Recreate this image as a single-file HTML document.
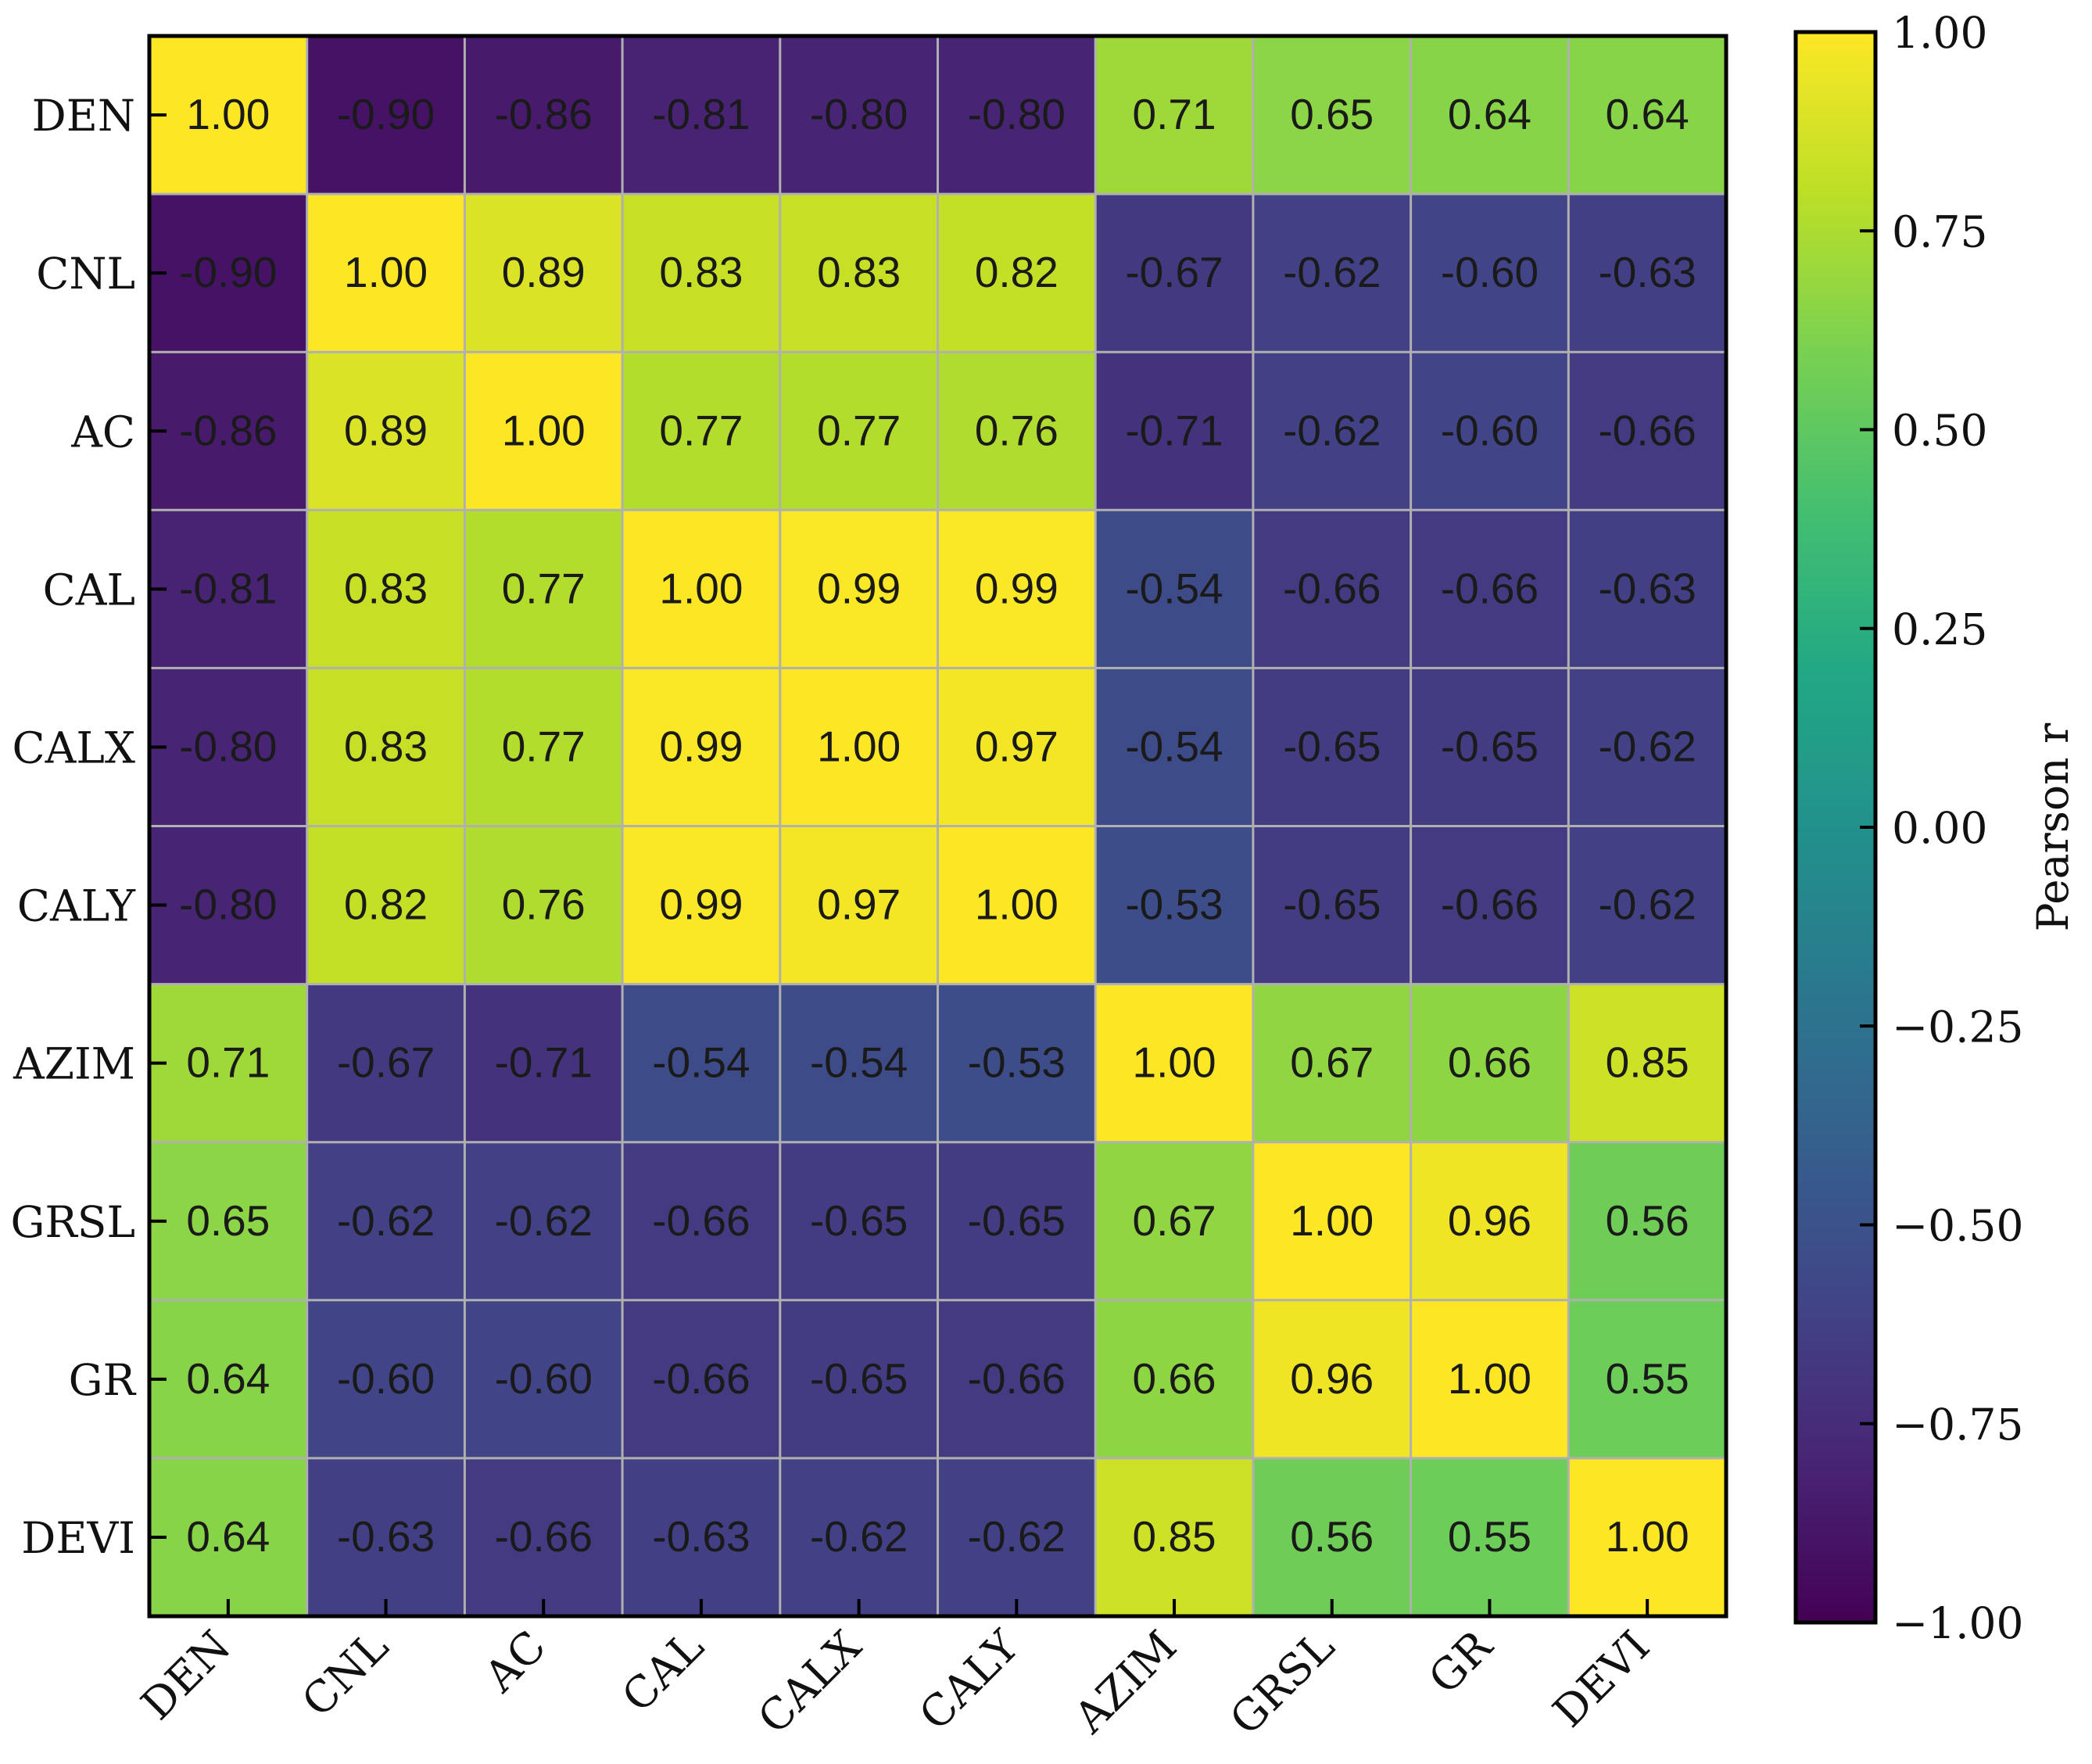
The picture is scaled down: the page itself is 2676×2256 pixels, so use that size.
<!DOCTYPE html>
<html><head><meta charset="utf-8">
<style>
html,body{margin:0;padding:0;background:#fff;}
svg{display:block;}
.tl{font-family:"DejaVu Serif","Liberation Serif",serif;font-size:55px;fill:#111;}
.cv{font-family:"Liberation Sans",sans-serif;font-size:55px;fill:#1a1a1a;}
</style></head>
<body>
<svg id="chart" width="2676" height="2256" viewBox="0 0 2676 2256" xmlns="http://www.w3.org/2000/svg">
<defs>
<linearGradient id="vir" x1="0" y1="1" x2="0" y2="0"></linearGradient>
</defs>
<g id="cells"></g>
<g id="grid"></g>
<g id="vals"></g>
<g id="axes"></g>
<g id="cbar"></g>
</svg>
<script>
const variables = ["DEN","CNL","AC","CAL","CALX","CALY","AZIM","GRSL","GR","DEVI"];
const rowDEN  = [1.00,-0.90,-0.86,-0.81,-0.80,-0.80,0.71,0.65,0.64,0.64];
const rowCNL  = [-0.90,1.00,0.89,0.83,0.83,0.82,-0.67,-0.62,-0.60,-0.63];
const rowAC   = [-0.86,0.89,1.00,0.77,0.77,0.76,-0.71,-0.62,-0.60,-0.66];
const rowCAL  = [-0.81,0.83,0.77,1.00,0.99,0.99,-0.54,-0.66,-0.66,-0.63];
const rowCALX = [-0.80,0.83,0.77,0.99,1.00,0.97,-0.54,-0.65,-0.65,-0.62];
const rowCALY = [-0.80,0.82,0.76,0.99,0.97,1.00,-0.53,-0.65,-0.66,-0.62];
const rowAZIM = [0.71,-0.67,-0.71,-0.54,-0.54,-0.53,1.00,0.67,0.66,0.85];
const rowGRSL = [0.65,-0.62,-0.62,-0.66,-0.65,-0.65,0.67,1.00,0.96,0.56];
const rowGR   = [0.64,-0.60,-0.60,-0.66,-0.65,-0.66,0.66,0.96,1.00,0.55];
const rowDEVI = [0.64,-0.63,-0.66,-0.63,-0.62,-0.62,0.85,0.56,0.55,1.00];
const matrix = [rowDEN,rowCNL,rowAC,rowCAL,rowCALX,rowCALY,rowAZIM,rowGRSL,rowGR,rowDEVI];
const cbarTicks = [1.00,0.75,0.50,0.25,0.00,-0.25,-0.50,-0.75,-1.00];
const cbarTickLabels = ["1.00","0.75","0.50","0.25","0.00","\u22120.25","\u22120.50","\u22120.75","\u22121.00"];
const vmin = -1, vmax = 1;

const NS = "http://www.w3.org/2000/svg";
const X0 = 191, X1 = 2208, Y0 = 46, Y1 = 2067;
const n = variables.length;
const cw = (X1 - X0) / n, ch = (Y1 - Y0) / n;
function xPos(i){ return X0 + i * cw; }
function yPos(i){ return Y0 + i * ch; }
const CB = {x0:2297, x1:2399, y0:41, y1:2075};
function cbY(v){ return CB.y1 - (v - vmin) / (vmax - vmin) * (CB.y1 - CB.y0); }

const vstops = [
[0.0,[68,1,84]],[0.1,[72,36,117]],[0.2,[65,68,135]],[0.3,[53,95,141]],
[0.4,[42,120,142]],[0.5,[33,145,140]],[0.6,[34,168,132]],[0.7,[68,191,112]],
[0.8,[122,209,81]],[0.9,[189,223,38]],[1.0,[253,231,37]]];
function viridis(t){
  t = Math.max(0, Math.min(1, t));
  for (let k = 0; k < vstops.length - 1; k++){
    const a = vstops[k], b = vstops[k+1];
    if (t <= b[0]){
      const f = (t - a[0]) / (b[0] - a[0]);
      const c = a[1].map((v, j) => Math.round(v + (b[1][j] - v) * f));
      return "rgb(" + c.join(",") + ")";
    }
  }
  return "rgb(253,231,37)";
}
function color(v){ return viridis((v - vmin) / (vmax - vmin)); }
function mk(tag, attrs, parent){
  const e = document.createElementNS(NS, tag);
  for (const k in attrs) e.setAttribute(k, attrs[k]);
  parent.appendChild(e);
  return e;
}

const cells = document.getElementById("cells");
const vals = document.getElementById("vals");
for (let r = 0; r < n; r++){
  for (let c = 0; c < n; c++){
    const v = matrix[r][c];
    const rect = mk("rect", {x:xPos(c), y:yPos(r), width:cw+0.5, height:ch+0.5, fill:color(v)}, cells);
    
    
    const t = mk("text", {x:xPos(c)+cw/2, y:yPos(r)+ch/2+18, "text-anchor":"middle", class:"cv"}, vals);
    t.textContent = v.toFixed(2);
    
    
  }
}
const grid = document.getElementById("grid");
for (let i = 1; i < n; i++){
  const l1 = mk("line", {x1:xPos(i), y1:Y0, x2:xPos(i), y2:Y1, stroke:"#b0b0b0", "stroke-width":3}, grid);
  
  
  const l2 = mk("line", {x1:X0, y1:yPos(i), x2:X1, y2:yPos(i), stroke:"#b0b0b0", "stroke-width":3}, grid);
  
  
}
const axes = document.getElementById("axes");
const frame = mk("rect", {x:X0, y:Y0, width:X1-X0, height:Y1-Y0, fill:"none", stroke:"#000", "stroke-width":5}, axes);


for (let i = 0; i < n; i++){
  const cx = xPos(i) + cw/2, cy = yPos(i) + ch/2;
  const tx = mk("line", {x1:cx, y1:Y1, x2:cx, y2:Y1-22, stroke:"#000", "stroke-width":4}, axes);
  
  
  const ty = mk("line", {x1:X0, y1:cy, x2:X0+22, y2:cy, stroke:"#000", "stroke-width":4}, axes);
  
  
  const yl = mk("text", {x:X0-18, y:cy+20, "text-anchor":"end", class:"tl"}, axes);
  yl.textContent = variables[i];
  
  
  const ax = cx + 6, ay = Y1 + 42;
  const xl = mk("text", {x:ax, y:ay, "text-anchor":"end", class:"tl", transform:"rotate(-45 "+ax+" "+ay+")"}, axes);
  xl.textContent = variables[i];
  
  
}
// colorbar
const grad = document.getElementById("vir");
for (let k = 0; k <= 20; k++){
  mk("stop", {offset:(k/20), "stop-color":viridis(k/20)}, grad);
}
const cbar = document.getElementById("cbar");
const cbr = mk("rect", {x:CB.x0, y:CB.y0, width:CB.x1-CB.x0, height:CB.y1-CB.y0, fill:"url(#vir)", stroke:"#000", "stroke-width":5}, cbar);


for (let k = 0; k < cbarTicks.length; k++){
  const y = cbY(cbarTicks[k]);
  const tk = mk("line", {x1:CB.x1-20, y1:y, x2:CB.x1, y2:y, stroke:"#000", "stroke-width":4}, cbar);
  
  
  const tl = mk("text", {x:2420, y:y+20, class:"tl"}, cbar);
  tl.textContent = cbarTickLabels[k];
  
  
}
const title = mk("text", {x:2645, y:1058, "text-anchor":"middle", class:"tl", transform:"rotate(-90 2645 1058)"}, cbar);
title.textContent = "Pearson r";


</script>
</body></html>
